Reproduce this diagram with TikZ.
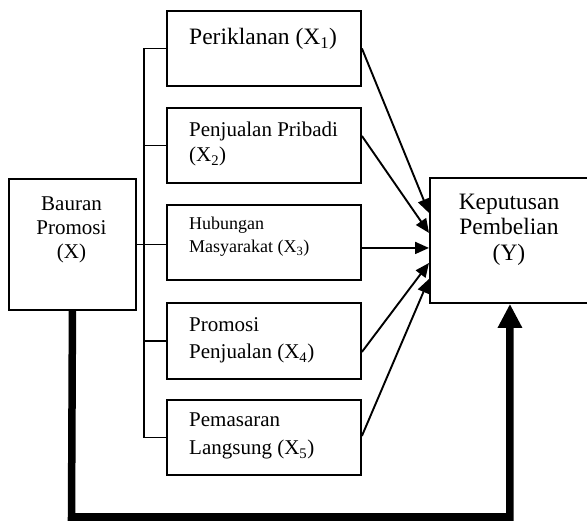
\documentclass[tikz,border=0pt]{standalone}
\usepackage{fontspec}
\setmainfont{Liberation Serif}
\usetikzlibrary{arrows.meta,calc}
\tikzset{
  boxn/.style={draw, line width=1.9pt, inner sep=0pt, anchor=north west},
  txt/.style={inner sep=0pt, anchor=base west},
  ctxt/.style={inner sep=0pt, anchor=base},
  thinline/.style={line width=1.7pt},
  arr/.style={line width=1.9pt, -{Triangle[length=14pt,width=12pt]}},
  fatarr/.style={line width=7.5pt, line join=miter, -{Triangle[length=24pt,width=23pt]}}
}
\newcommand\fsA{\fontsize{21}{25}\selectfont}
\newcommand\fsB{\fontsize{23.5}{27}\selectfont}
\newcommand\fsC{\fontsize{18}{22}\selectfont}
\begin{document}
\begin{tikzpicture}[x=1pt,y=-1pt]
\clip (0,0) rectangle (587,521);
\fill[white] (0,0) rectangle (587,521);
% boxes
\node[boxn, minimum width=127pt, minimum height=131pt] (bx) at (8,178) {};
\node[boxn, minimum width=194pt, minimum height=75pt] (b1) at (166,10) {};
\node[boxn, minimum width=194pt, minimum height=75pt] (b2) at (166,107) {};
\node[boxn, minimum width=194pt, minimum height=75pt] (b3) at (166,204) {};
\node[boxn, minimum width=194pt, minimum height=76pt] (b4) at (166,302) {};
\node[boxn, minimum width=194pt, minimum height=75pt] (b5) at (166,399) {};
\node[boxn, minimum width=160pt, minimum height=125pt] (by) at (429,177) {};
% texts
\node[ctxt] (tx1) at (71.5,211) {\fsA Bauran};
\node[ctxt] (tx2) at (71.5,235) {\fsA Promosi};
\node[ctxt] (tx3) at (71.5,259) {\fsA (X)};
\node[txt] (t1) at (189,45) {\fsB Periklanan (X\textsubscript{1})};
\node[txt] (t2a) at (189,137) {\fsA Penjualan Pribadi};
\node[txt] (t2b) at (189,162) {\fsA (X\textsubscript{2})};
\node[txt] (t3a) at (189,230) {\fsC Hubungan};
\node[txt] (t3b) at (189,253) {\fsC Masyarakat (X\textsubscript{3})};
\node[txt] (t4a) at (189,332) {\fsA Promosi};
\node[txt] (t4b) at (189,359) {\fsA Penjualan (X\textsubscript{4})};
\node[txt] (t5a) at (189,427) {\fsA Pemasaran};
\node[txt] (t5b) at (189,455) {\fsA Langsung (X\textsubscript{5})};
\node[ctxt] (ty1) at (509,210) {\fsB Keputusan};
\node[ctxt] (ty2) at (509,235) {\fsB Pembelian};
\node[ctxt] (ty3) at (509,261) {\fsB (Y)};
% bracket
\draw[thinline] (b1.west) -- ++(-22,0) |- (b5.west);
\draw[thinline] (b2.west) -- ++(-22,0);
\draw[thinline] (b4.west) -- ++(-22,0);
\draw[thinline] (bx.east) -- (bx.east -| b3.west);
% arrows to Y
\draw[arr] (b1.east) -- ($(by.west)+(0,-27.5)$);
\draw[arr] ($(b2.east)+(0,-9.5)$) -- ($(by.west)+(0,-7.5)$);
\draw[arr] ($(b3.east)+(0,5.5)$) -- ($(by.west)+(0,7.5)$);
\draw[arr] ($(b4.east)+(0,11)$) -- ($(by.west)+(0,22.5)$);
\draw[arr] ($(b5.east)+(0,-1.5)$) -- ($(by.west)+(0,38.5)$);
% thick feedback
\coordinate (bl) at (71.5,517);
\draw[fatarr] (bx.south) -- (bl) -| (by.south);
\end{tikzpicture}
\end{document}
